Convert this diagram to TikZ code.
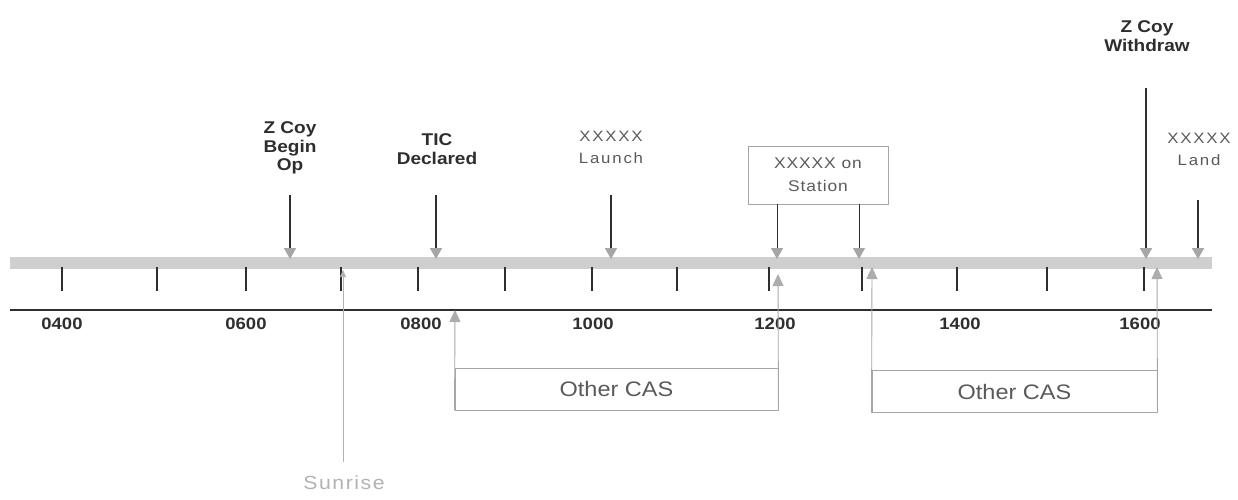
\documentclass[tikz,border=0pt]{standalone}
\usepackage{fontspec}
\setmainfont[FakeStretch=1.12]{Liberation Sans}
\usetikzlibrary{arrows.meta}
\definecolor{ink}{HTML}{2E2E2E}
\definecolor{soft}{HTML}{5A5A5A}
\definecolor{band}{HTML}{CFCFCF}
\begin{document}
\begin{tikzpicture}[x=1pt,y=-1pt,
  evlabel/.style={font=\fontsize{17}{18.5}\selectfont\bfseries, text=ink, align=center, inner sep=0pt},
  greylabel/.style={font=\fontsize{15}{22}\selectfont\addfontfeature{LetterSpace=12}, text=soft, align=center, inner sep=0pt},
  hour/.style={font=\fontsize{16.5}{18}\selectfont\bfseries, text=ink, inner sep=0pt},
  tickmark/.style={line width=2.4pt, ink},
  downarrow/.style={line width=1.7pt, ink, -{Triangle[width=12pt,length=11pt,color=gray!70]}},
  uparrow/.style={line width=0.9pt, gray!70, -{Triangle[width=11pt,length=12pt,color=gray!65]}},
  casbox/.style={draw=gray!70, line width=0.9pt, minimum height=42pt, inner sep=0pt, font=\fontsize{21}{24}\selectfont, text=soft},
  stationbox/.style={draw=gray!70, line width=0.9pt, minimum width=140pt, minimum height=58pt, inner sep=0pt, align=center, font=\fontsize{15.5}{23}\selectfont\addfontfeature{LetterSpace=6}, text=soft}
]
\useasboundingbox (0,0) rectangle (1238,499);

% band and axis
\coordinate (bandL) at (10,263);
\coordinate (bandR) at (1212,263);
\draw[line width=12pt, band] (bandL) -- (bandR);
\coordinate (axisL) at (10,310);
\coordinate (axisR) at (1212,310);
\draw[line width=1.5pt, ink] (axisL) -- (axisR);

% ticks
\foreach \x in {62,157,246,341,418,505,592,677,769,862,957,1047,1144}{
  \draw[tickmark] (\x,267) -- (\x,291);
}

% hour labels
\node[hour] (h04) at (62,324) {0400};
\node[hour] (h06) at (246,324) {0600};
\node[hour] (h08) at (421,324) {0800};
\node[hour] (h10) at (593,324) {1000};
\node[hour] (h12) at (775,324) {1200};
\node[hour] (h14) at (960,324) {1400};
\node[hour] (h16) at (1140,324) {1600};

% event labels
\node[evlabel] (zbegin) at (290,148) {Z Coy\\Begin\\Op};
\node[evlabel] (tic) at (437,149) {TIC\\Declared};
\node[greylabel] (launch) at (611,147) {XXXXX\\Launch};
\node[stationbox] (station) at (818,175) {XXXXX on\\Station};
\node[evlabel] (withdraw) at (1147,36) {Z Coy\\Withdraw};
\node[greylabel] (land) at (1199,149) {XXXXX\\Land};

% down arrows
\coordinate (zbS) at (290,195); \coordinate (zbT) at (290,259);
\coordinate (ticS) at (436,195); \coordinate (ticT) at (436,259);
\coordinate (laS) at (611,195); \coordinate (laT) at (611,259);
\coordinate (stT1) at (777,259); \coordinate (stT2) at (859,259);
\coordinate (wdS) at (1146,88); \coordinate (wdT) at (1146,259);
\coordinate (ldS) at (1198,200); \coordinate (ldT) at (1198,259);
\draw[downarrow] (zbS) -- (zbT);
\draw[downarrow] (ticS) -- (ticT);
\draw[downarrow] (laS) -- (laT);
\draw[downarrow, line width=1pt] (station.south -| stT1) -- (stT1);
\draw[downarrow, line width=1pt] (station.south -| stT2) -- (stT2);
\draw[downarrow] (wdS) -- (wdT);
\draw[downarrow] (ldS) -- (ldT);

% Other CAS boxes
\node[casbox, minimum width=323pt] (cas1) at (616.5,389) {Other CAS};
\node[casbox, minimum width=285pt] (cas2) at (1014.5,391.5) {Other CAS};
\coordinate (c1L) at (455,310);
\coordinate (c1R) at (778,274);
\coordinate (c2L) at (872,267);
\coordinate (c2R) at (1157,267);
\draw[uparrow] (cas1.south west) -- (c1L);
\draw[uparrow] (cas1.south east) -- (c1R);
\draw[uparrow] (cas2.south west) -- (c2L);
\draw[uparrow] (cas2.south east) -- (c2R);

% Sunrise
\node[font=\fontsize{19}{20}\selectfont\addfontfeature{LetterSpace=8}, text=gray!60, inner sep=0pt] (sunrise) at (344,483) {Sunrise};
\coordinate (srB) at (343,462);
\coordinate (srT) at (343,270);
\draw[line width=0.6pt, gray!60, -{Triangle[width=6pt,length=7pt,color=gray!60]}] (srB) -- (srT);
\end{tikzpicture}
\end{document}
